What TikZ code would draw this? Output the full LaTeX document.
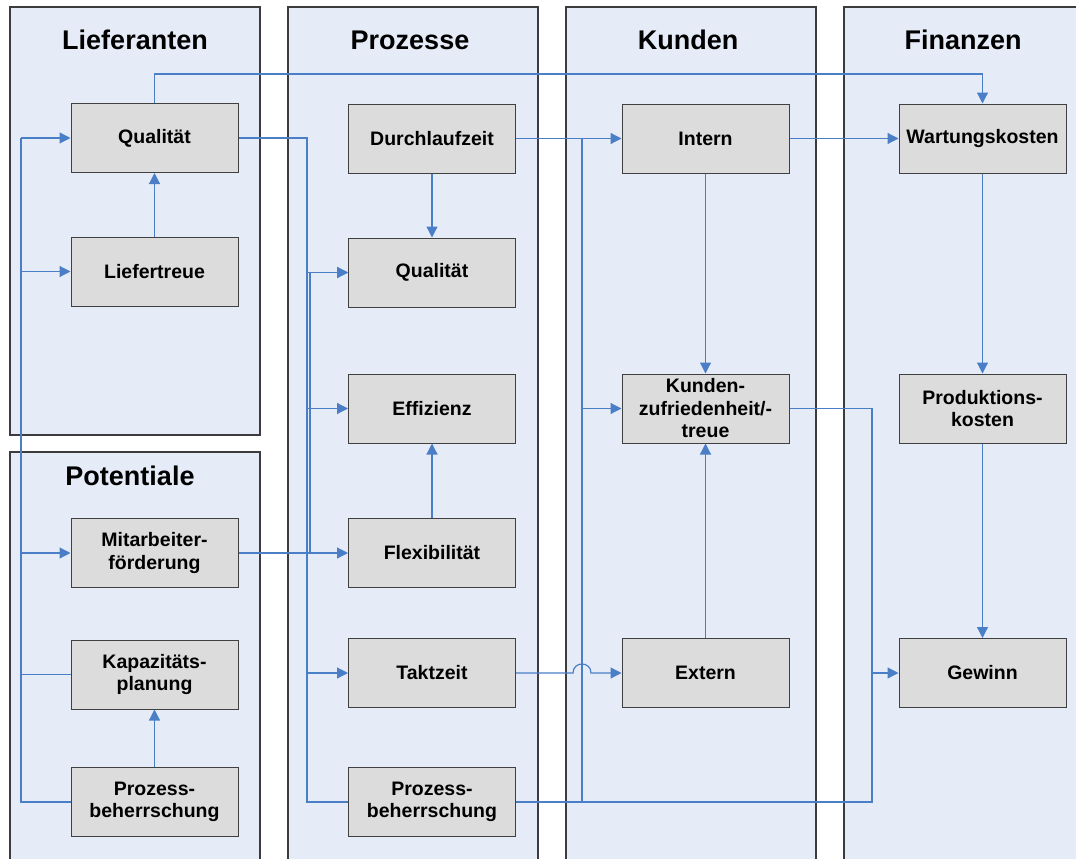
\documentclass[tikz,border=0pt]{standalone}
\usepackage{fontspec}
\setmainfont{Liberation Sans}
\usetikzlibrary{arrows.meta}
\definecolor{lane}{RGB}{230,236,247}
\definecolor{boxfill}{RGB}{220,220,220}
\definecolor{linkc}{RGB}{74,126,199}
\definecolor{frame}{RGB}{60,60,60}

\begin{document}
\begin{tikzpicture}[x=1pt,y=-1pt,
  lanebox/.style={draw=frame,fill=lane,line width=1.3pt},
  title/.style={anchor=base,font=\fontsize{27}{30}\selectfont\bfseries},
  kpi/.style={draw=black!75,fill=boxfill,line width=1pt,minimum width=167pt,
    minimum height=69pt,inner sep=0pt,text width=162pt,align=center,
    font=\fontsize{19.5}{22.5}\selectfont\bfseries},
  link/.style={draw=linkc,line width=1.2pt},
  arr/.style={link,-{Triangle[length=11pt,width=11pt]}},
]
\useasboundingbox (0,0) rectangle (1076,859);

% swim lanes
\begin{scope}
  \clip (0,0) rectangle (1076,859);
  \fill[white] (0,0) rectangle (1076,859);
  \draw[lanebox] (10,7) rectangle (260,435);
  \draw[lanebox] (10,452) rectangle (260,880);
  \draw[lanebox] (288,7) rectangle (538,880);
  \draw[lanebox] (566,7) rectangle (816,880);
  \draw[lanebox] (844,7) rectangle (1094,880);
\end{scope}

% lane titles
\node[title] (tLief) at (135,50) {Lieferanten};
\node[title] (tProz) at (410,50) {Prozesse};
\node[title] (tKund) at (688,50) {Kunden};
\node[title] (tFin)  at (963,50) {Finanzen};
\node[title] (tPot)  at (130,485) {Potentiale};

% Lieferanten / Potentiale
\node[kpi] (lq)  at (154.5,138) {Qualität};
\node[kpi] (lt)  at (154.5,271.5) {Liefertreue};
\node[kpi] (mf)  at (154.5,553) {Mitarbeiter-\\förderung};
\node[kpi] (kap) at (154.5,674.5) {Kapazitäts-\\planung};
\node[kpi] (ppb) at (154.5,802) {Prozess-\\beherrschung};

% Prozesse
\node[kpi] (dlz)  at (432,138.5) {Durchlaufzeit};
\node[kpi] (pq)   at (432,272.5) {Qualität};
\node[kpi] (eff)  at (432,408.5) {Effizienz};
\node[kpi] (flex) at (432,553) {Flexibilität};
\node[kpi] (takt) at (432,673) {Taktzeit};
\node[kpi] (pb)   at (432,802) {Prozess-\\beherrschung};

% Kunden
\node[kpi] (intern) at (705.5,138.5) {Intern};
\node[kpi] (kz)     at (705.5,408.5) {Kunden-\\zufriedenheit/-\\treue};
\node[kpi] (extern) at (705.5,673) {Extern};

% Finanzen
\node[kpi] (wk)   at (982.5,138.5) {Wartungskosten};
\node[kpi] (prod) at (982.5,408.5) {Produktions-\\kosten};
\node[kpi] (gew)  at (982.5,673) {Gewinn};

% bus positions
\coordinate (xl) at (21,0);
\coordinate (xp) at (307,0);
\coordinate (xp2) at (310,0);
\coordinate (xk) at (582,0);
\coordinate (xf) at (872,0);
\coordinate (ytop) at (0,74);

% Potentiale -> Lieferanten
\draw[link] (ppb.west) -- (xl |- ppb.west) -- (xl |- lq.west);
\draw[link] (kap.west) -- (xl |- kap.west);
\draw[arr] (xl |- lq.west) -- (lq.west);
\draw[arr] (xl |- lt.west) -- (lt.west);
\draw[arr] (xl |- mf.west) -- (mf.west);
\draw[arr] (lt.north) -- (lq.south);
\draw[arr] (ppb.north) -- (kap.south);

% Qualität (Lieferanten) -> Wartungskosten
\draw[arr] (lq.north) -- (lq.north |- ytop) -| (wk.north);

% into Prozesse
\draw[link] (lq.east) -- (xp |- lq.east) -- (xp |- pb.west) -- (pb.west);
\draw[arr] (xp |- pq.west) -- (pq.west);
\draw[arr] (xp |- eff.west) -- (eff.west);
\draw[arr] (xp |- takt.west) -- (takt.west);
\draw[arr] (mf.east) -- (flex.west);
\draw[link] (xp2 |- flex.west) -- (xp2 |- pq.west);
\draw[arr] (xp2 |- pq.west) -- (pq.west);
\draw[arr] (dlz.south) -- (pq.north);
\draw[arr] (flex.north) -- (eff.south);

% Prozesse -> Kunden
\draw[arr] (dlz.east) -- (intern.west);
\draw[link] (xk |- dlz.east) -- (xk |- pb.east);
\draw[arr] (xk |- kz.west) -- (kz.west);
\draw[arr] (takt.east) -- (573,673) .. controls (573,661) and (591,661) .. (591,673) -- (extern.west);

% into Gewinn
\draw[link] (pb.east) -- (xf |- pb.east) -- (xf |- gew.west);
\draw[arr] (kz.east) -- (xf |- kz.east) -- (xf |- gew.west) -- (gew.west);

% Kunden / Finanzen
\draw[arr] (intern.east) -- (wk.west);
\draw[arr] (intern.south) -- (kz.north);
\draw[arr] (extern.north) -- (kz.south);
\draw[arr] (wk.south) -- (prod.north);
\draw[arr] (prod.south) -- (gew.north);
\end{tikzpicture}
\end{document}
